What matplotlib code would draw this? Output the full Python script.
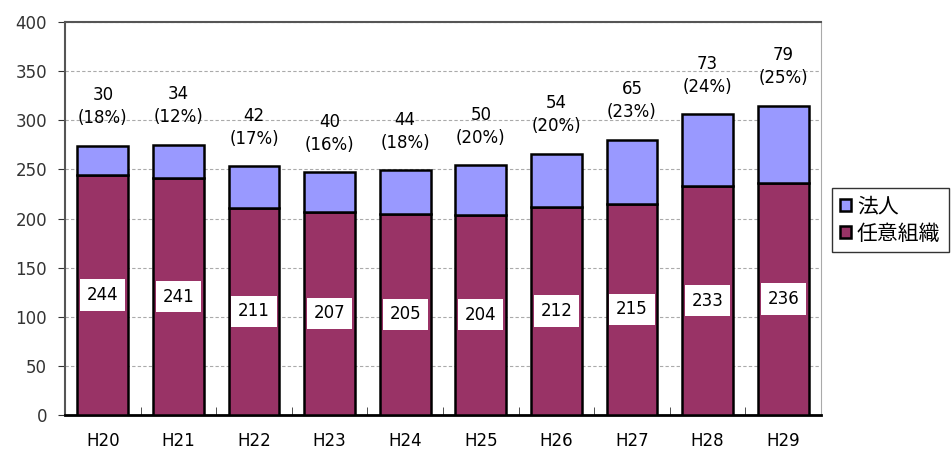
import numpy as np
import matplotlib.pyplot as plt

plt.rcParams['font.family'] = ['DejaVu Sans', 'Noto Sans CJK JP']

years    = ['H20', 'H21', 'H22', 'H23', 'H24', 'H25', 'H26', 'H27', 'H28', 'H29']
nin_i    = [244, 241, 211, 207, 205, 204, 212, 215, 233, 236]   # 任意組織
hojin    = [30, 34, 42, 40, 44, 50, 54, 65, 73, 79]             # 法人
hojin_pc = [18, 12, 17, 16, 18, 20, 20, 23, 24, 25]

C_BOTTOM = '#993366'
C_TOP    = '#9999FF'

fig = plt.figure(figsize=(9.53, 4.5), dpi=100)
ax = fig.add_axes([65 / 953, 1 - 415 / 450, (821 - 65) / 953, (415 - 22) / 450])

x = np.arange(len(years))
w = 0.67
b1 = ax.bar(x, nin_i, w, color=C_BOTTOM, edgecolor='black', lw=1.8, label='任意組織', zorder=3)
b2 = ax.bar(x, hojin, w, bottom=nin_i, color=C_TOP, edgecolor='black', lw=1.8, label='法人', zorder=3)

for xi, v in zip(x, nin_i):
    ax.text(xi, v / 2, f'{v}', ha='center', va='center', fontsize=12, zorder=4,
            bbox=dict(boxstyle='square,pad=0.4', fc='white', ec='none'))

for xi, a, b, p in zip(x, nin_i, hojin, hojin_pc):
    ax.text(xi, a + b + 19, f'{b}\n({p}%)', ha='center', va='bottom', fontsize=12,
            linespacing=1.35, zorder=4)

ax.set_xlim(-0.5, len(years) - 0.5)
ax.set_ylim(0, 400)
ax.set_yticks(np.arange(0, 401, 50))
ax.yaxis.grid(True, color='#aaaaaa', ls=(0, (3, 2)), lw=0.8, zorder=0)
ax.set_axisbelow(True)

ax.set_xticks(x)
ax.set_xticklabels(years, fontsize=12)
ax.tick_params(axis='x', length=0, pad=12)
ax.set_xticks(np.arange(0.5, len(years) - 1, 1), minor=True)
ax.tick_params(axis='x', which='minor', direction='in', length=6, color='#333333')
ax.tick_params(axis='y', direction='out', length=5, labelsize=12, pad=8, colors='#333333')

ax.spines['bottom'].set_color('black')
ax.spines['bottom'].set_linewidth(2)
ax.spines['left'].set_color('#555555')
ax.spines['left'].set_linewidth(1.5)
ax.spines['top'].set_color('#555555')
ax.spines['top'].set_linewidth(1.5)
ax.spines['right'].set_color('#aaaaaa')

leg = fig.legend(handles=[b2, b1], labels=['法人', '任意組織'], loc='upper left',
                 bbox_to_anchor=(832 / 953, 1 - 188 / 450), fontsize=15,
                 frameon=True, fancybox=False, edgecolor='black',
                 handlelength=0.5, handleheight=0.5, handletextpad=0.3,
                 borderpad=0.4, labelspacing=0.35, borderaxespad=0)
leg.get_frame().set_linewidth(1.0)

fig.savefig('out.png', dpi=100)
